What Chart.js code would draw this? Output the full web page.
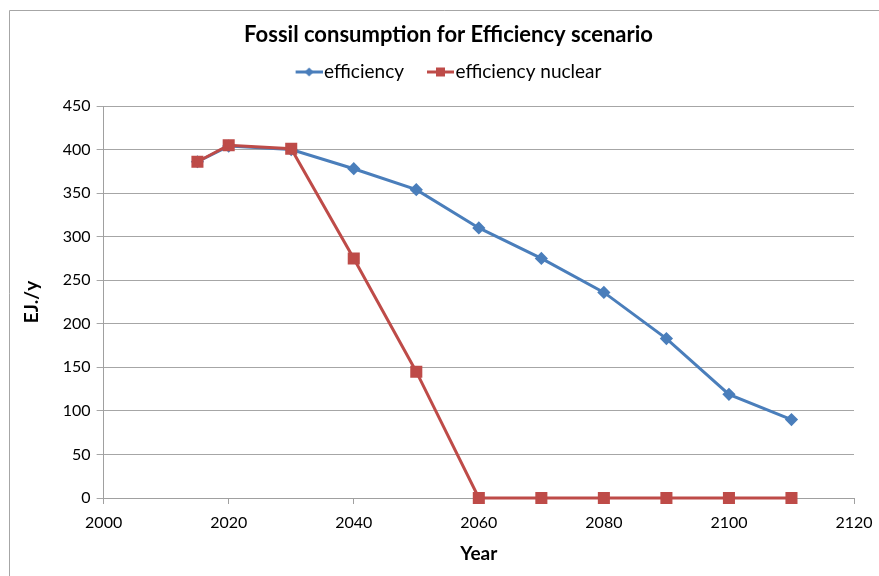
<!DOCTYPE html>
<html>
<head>
<meta charset="utf-8">
<script src="https://cdn.jsdelivr.net/npm/chart.js@4.4.1/dist/chart.umd.min.js"></script>
<style>
  html, body { margin: 0; padding: 0; background: #fff; overflow: hidden; }
  #wrap { width: 879px; height: 576px; position: relative; }
</style>
</head>
<body>
<div id="wrap"><canvas id="chart" width="879" height="576"></canvas></div>
<script>
// Fossil fuel consumption, EJ per year
const years = [2015, 2020, 2030, 2040, 2050, 2060, 2070, 2080, 2090, 2100, 2110];
const efficiency = [386, 404, 400, 378, 354, 310, 275, 236, 183, 119, 90];
const efficiencyNuclear = [386, 405, 401, 275, 145, 0, 0, 0, 0, 0, 0];
const seriesNames = ['efficiency', 'efficiency nuclear'];
const chartTitle = 'Fossil consumption for Efficiency scenario';
const xTitle = 'Year';
const yTitle = 'EJ./y';

const BLUE = '#4A7EBB';
const RED = '#BE4B48';
const FONT = 'Lato, "Open Sans", sans-serif';
const FRAME_CENTER_X = 448.5;   // horizontal centre of the chart frame

function toPoints(xs, ys) {
  return xs.map((x, i) => ({ x: x, y: ys[i] }));
}

// legend swatch: short line with the series marker in its middle,
// placed in the right part of the image so it sits just before the text
function legendSwatch(color, shape) {
  const c = document.createElement('canvas');
  c.width = 35; c.height = 12;
  const g = c.getContext('2d');
  g.strokeStyle = color; g.lineWidth = 3;
  g.beginPath(); g.moveTo(8, 6); g.lineTo(35, 6); g.stroke();
  g.fillStyle = color;
  g.beginPath();
  const cx = 21.5;
  if (shape === 'diamond') {
    g.moveTo(cx, 1.5); g.lineTo(cx + 4.5, 6); g.lineTo(cx, 10.5); g.lineTo(cx - 4.5, 6);
  } else {
    g.rect(cx - 4.5, 1.5, 9, 9);
  }
  g.closePath(); g.fill();
  return c;
}

// outer chart border (left and top edges fall inside the canvas)
const frame = {
  id: 'frame',
  beforeDraw(chart) {
    const ctx = chart.ctx;
    ctx.save();
    ctx.fillStyle = '#fff';
    ctx.fillRect(0, 0, chart.width, chart.height);
    ctx.strokeStyle = '#a6a6a6';
    ctx.lineWidth = 1;
    ctx.beginPath();
    ctx.moveTo(9.5, chart.height);
    ctx.lineTo(9.5, 10.5);
    ctx.lineTo(chart.width, 10.5);
    ctx.stroke();
    ctx.restore();
  }
};

// extra room under the legend row, and title/legend centred on the frame
const headerLayout = {
  id: 'headerLayout',
  beforeLayout(chart) {
    const lg = chart.legend;
    if (lg && !lg._gapPatched) {
      const fit = lg.fit;
      lg.fit = function () { fit.call(this); this.height += 14.5; };
      lg._gapPatched = true;
    }
  },
  afterLayout(chart) {
    [chart.titleBlock, chart.legend].forEach(b => {
      if (!b) return;
      const dx = FRAME_CENTER_X - (b.left + b.right) / 2;
      b.left += dx; b.right += dx;
    });
  }
};

new Chart(document.getElementById('chart'), {
  type: 'line',
  data: {
    datasets: [
      {
        label: seriesNames[0],
        data: toPoints(years, efficiency),
        borderColor: BLUE,
        backgroundColor: BLUE,
        borderWidth: 3,
        pointStyle: 'rectRot',
        pointRadius: 4.5,
        pointHoverRadius: 4.5,
        tension: 0,
        clip: false,
        order: 1
      },
      {
        label: seriesNames[1],
        data: toPoints(years, efficiencyNuclear),
        borderColor: RED,
        backgroundColor: RED,
        borderWidth: 3,
        pointStyle: 'rect',
        pointRadius: 6.4,
        pointHoverRadius: 6.4,
        tension: 0,
        clip: false,
        order: 0
      }
    ]
  },
  options: {
    responsive: false,
    animation: false,
    events: [],
    layout: { padding: { left: 20, right: 25, top: 12, bottom: 11 } },
    plugins: {
      title: {
        display: true,
        text: chartTitle,
        color: '#000',
        font: { family: FONT, size: 22, weight: 'bold' },
        padding: { top: 10, bottom: -8.9 }
      },
      legend: {
        display: true,
        labels: {
          color: '#000',
          font: { family: FONT, size: 19 },
          usePointStyle: true,
          pointStyleWidth: 19,
          padding: 23,
          generateLabels(chart) {
            return chart.data.datasets.map((ds, i) => ({
              text: ds.label,
              pointStyle: legendSwatch(ds.borderColor, i === 0 ? 'diamond' : 'square'),
              fillStyle: ds.borderColor,
              strokeStyle: ds.borderColor,
              lineWidth: 0,
              datasetIndex: i,
              fontColor: '#000'
            }));
          }
        }
      },
      tooltip: { enabled: false }
    },
    scales: {
      x: {
        type: 'linear',
        min: 2000,
        max: 2120,
        afterFit(scale) {
          // the last tick label may run into the right margin
          scale.paddingRight = 0;
        },
        ticks: {
          stepSize: 20,
          color: '#000',
          font: { family: FONT, size: 16 },
          padding: 9,
          callback: v => String(v)
        },
        grid: {
          drawOnChartArea: false,
          drawTicks: true,
          tickLength: 6,
          color: '#a0a0a0',
          lineWidth: 1
        },
        border: { color: '#a0a0a0', width: 1 },
        title: {
          display: true,
          text: xTitle,
          color: '#000',
          font: { family: FONT, size: 19, weight: 'bold' },
          padding: { top: 1, bottom: 0 }
        }
      },
      y: {
        type: 'linear',
        min: 0,
        max: 450,
        ticks: {
          stepSize: 50,
          color: '#000',
          font: { family: FONT, size: 16 },
          padding: 6
        },
        grid: {
          color: '#a6a6a6',
          lineWidth: 1,
          tickLength: 7
        },
        border: { color: '#a0a0a0', width: 1 },
        title: {
          display: true,
          text: yTitle,
          color: '#000',
          font: { family: FONT, size: 19, weight: 'bold' },
          padding: { top: 0, bottom: 14 }
        }
      }
    }
  },
  plugins: [frame, headerLayout]
});
</script>
</body>
</html>
